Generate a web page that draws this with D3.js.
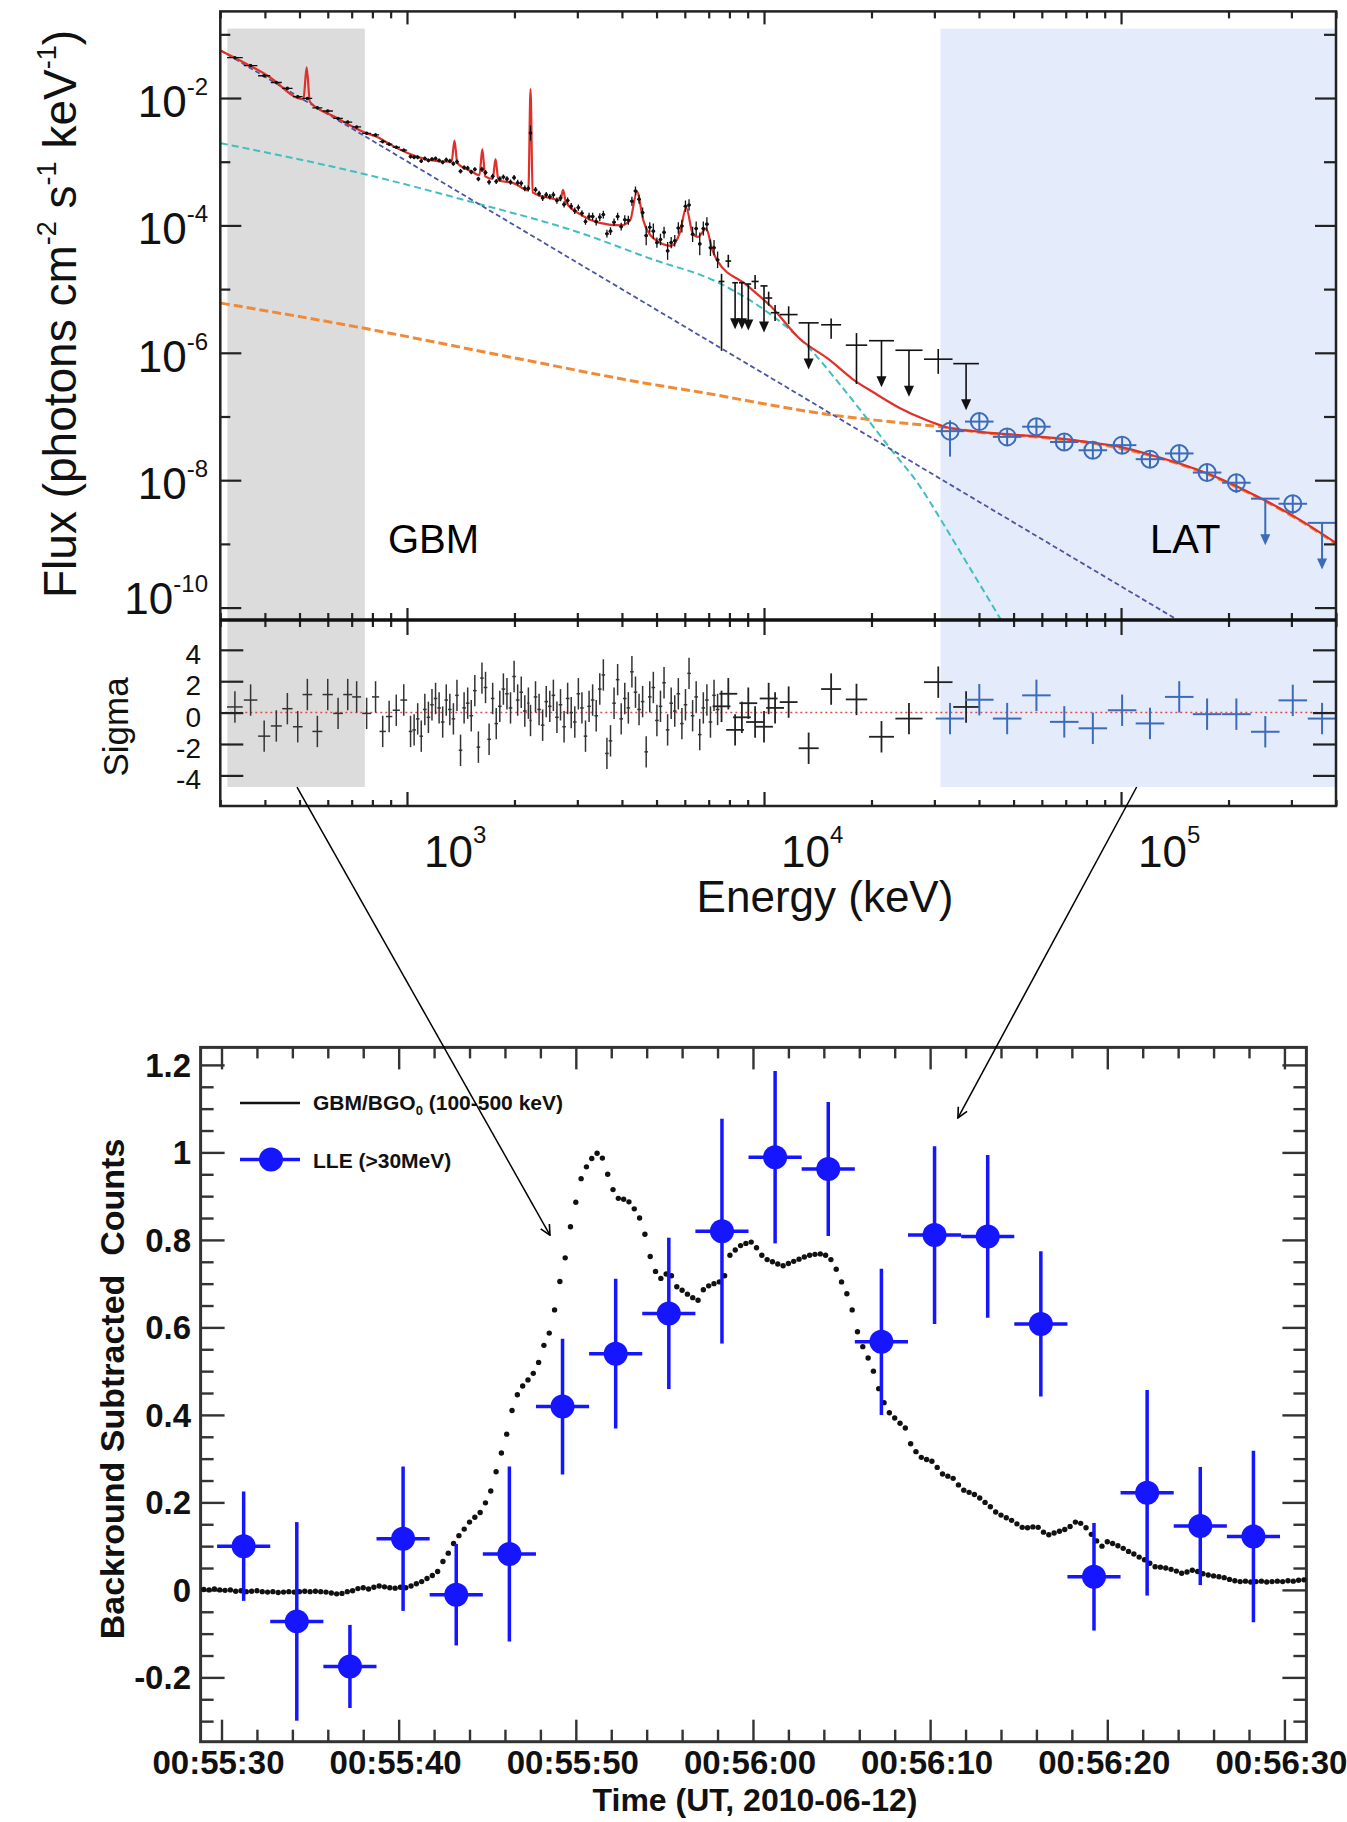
<!DOCTYPE html>
<html>
<head>
<meta charset="utf-8">
<script src="https://cdn.jsdelivr.net/npm/d3@7"></script>
<style>
  body { margin: 0; background: #fff; }
  svg text { font-family: "Liberation Sans", Arial, Helvetica, sans-serif; }
</style>
</head>
<body>
<svg id="fig" width="1347" height="1822"></svg>
<script>
// ---------------- data: spectrum (log10 E in keV, log10 flux) ----------------
const gbmLogE = [2.518,2.562,2.600,2.634,2.665,2.694,2.721,2.749,2.778,2.807,2.834,2.859,2.887,2.912,2.932,2.950,2.970,2.991,
  3.01,3.02,3.03,3.04,3.05,3.06,3.07,3.08,3.09,3.10,
  3.11,3.12,3.13,3.14,3.15,3.16,3.17,3.18,3.19,3.20,
  3.21,3.22,3.23,3.24,3.25,3.26,3.27,3.28,3.29,3.30,
  3.31,3.32,3.33,3.34,3.346,3.36,3.37,3.38,3.39,3.40,
  3.41,3.42,3.43,3.44,3.45,3.46,3.47,3.48,3.49,3.50,
  3.51,3.52,3.53,3.54,3.55,3.56,3.57,3.58,3.59,3.60,
  3.61,3.62,3.63,3.64,3.65,3.66,3.67,3.68,3.69,3.70,
  3.71,3.72,3.73,3.74,3.75,3.76,3.77,3.78,3.79,3.80,
  3.81,3.82,3.83,3.84,3.85,3.86,3.87];
const gbmLogF = [-1.367,-1.490,-1.650,-1.756,-1.849,-1.979,-2.007,-2.154,-2.204,-2.321,-2.377,-2.454,-2.555,-2.580,-2.684,-2.725,-2.773,-2.819,
  -2.92,-2.93,-2.93,-2.99,-2.95,-2.98,-2.96,-2.95,-2.98,-3.01,
  -2.97,-2.99,-3.03,-3.00,-3.15,-3.09,-3.10,-3.16,-3.12,-3.27,
  -3.12,-3.17,-3.32,-3.23,-3.31,-3.27,-3.24,-3.27,-3.32,-3.25,
  -3.33,-3.34,-3.42,-3.42,-2.55,-3.44,-3.50,-3.57,-3.52,-3.55,
  -3.52,-3.61,-3.57,-3.67,-3.61,-3.70,-3.77,-3.72,-3.81,-3.94,
  -3.86,-3.86,-3.94,-3.87,-3.83,-4.13,-4.09,-3.95,-3.86,-4.02,
  -3.91,-3.92,-3.62,-3.46,-3.59,-3.80,-4.16,-4.03,-4.09,-4.27,
  -4.22,-4.11,-4.40,-4.27,-4.24,-4.04,-4.01,-3.70,-3.68,-4.14,
  -4.05,-4.29,-4.05,-3.98,-4.35,-4.35,-4.54];
const gbmErr = [0.02,0.02,0.02,0.02,0.02,0.02,0.02,0.02,0.02,0.02,0.02,0.02,0.025,0.025,0.025,0.025,0.025,0.025,
  0.03,0.03,0.03,0.03,0.03,0.03,0.03,0.03,0.03,0.03,
  0.035,0.035,0.035,0.035,0.035,0.035,0.035,0.035,0.035,0.035,
  0.04,0.04,0.04,0.04,0.04,0.04,0.04,0.04,0.04,0.04,
  0.045,0.045,0.045,0.045,0.12,0.045,0.045,0.045,0.045,0.045,
  0.05,0.05,0.05,0.05,0.05,0.05,0.05,0.05,0.05,0.05,
  0.06,0.06,0.06,0.06,0.06,0.06,0.06,0.06,0.06,0.06,
  0.07,0.07,0.07,0.07,0.07,0.08,0.15,0.08,0.12,0.08,
  0.09,0.09,0.14,0.09,0.09,0.09,0.10,0.09,0.09,0.12,
  0.11,0.18,0.11,0.11,0.13,0.12,0.13];
const gbmSigma = [0.36,0.8,-1.5,-0.85,0.25,-0.9,1.15,-1.2,1.15,-0.05,1.15,1.0,-0.05,1.0,-1.2,-0.25,0.15,0.8,
  -1.2,-1.1,-0.4,-1.5,0.2,-0.3,0.5,0.9,0.3,-0.6,
  0.8,0.2,-0.4,1.1,-2.4,0.3,0.6,-0.2,1.4,-2.2,
  2.2,1.6,-1.7,0.9,-0.7,0.4,1.5,1.2,0.3,2.3,
  0.8,1.3,0.1,0.6,-0.5,1.0,0.2,-0.8,0.7,0.4,
  1.1,-0.3,0.5,-0.9,0.9,0.0,-0.6,1.2,0.3,-1.5,
  0.4,0.8,-0.2,1.5,2.4,-2.6,-1.8,0.6,2.1,-0.4,
  0.9,0.3,2.6,1.3,0.2,0.7,-2.5,1.0,1.6,-0.5,
  0.4,1.9,-1.1,0.6,0.1,1.2,-0.7,0.5,2.5,-0.2,
  1.0,-1.4,0.3,0.8,-0.6,1.1,0.2];

// sparse high-energy GBM (BGO) points
const bgoLogE   = [3.881, 3.900, 3.975, 4.013, 4.031, 4.069, 4.188, 4.259, 4.488];
const bgoLogF   = [-4.88, -4.56, -4.88, -5.14, -5.37, -5.40, -5.56, -5.88, -6.10];
const bgoErrLo  = [1.09, 0.10, 0.12, 0.12, 0.13, 0.15, 0.22, 0.61, 0.23];
const bgoErrHi  = [0.12, 0.10, 0.10, 0.10, 0.12, 0.13, 0.10, 0.19, 0.16];
const bgoHalfW  = [0.008, 0.008, 0.010, 0.010, 0.012, 0.025, 0.028, 0.030, 0.040];
const bgoSigma  = [0.4, 1.2, -0.6, 0.9, 0.3, 0.67, 1.5, 0.84, 1.94];
const bgoUlLogE = [3.919, 3.938, 3.956, 4.000, 4.125, 4.329, 4.406, 4.566];
const bgoUlLogF = [-4.90, -4.90, -4.92, -4.95, -5.53, -5.81, -5.96, -6.17];
const bgoUlHalfW = [0.008, 0.008, 0.008, 0.010, 0.028, 0.035, 0.038, 0.036];
const bgoUlSigma = [-1.1, -0.3, 0.6, -0.9, -2.27, -1.54, -0.38, 0.36];

// LAT points
const latLogE  = [4.521, 4.603, 4.681, 4.763, 4.841, 4.921, 5.003, 5.081, 5.163, 5.241, 5.323, 5.481];
const latLogF  = [-7.23, -7.08, -7.32, -7.16, -7.40, -7.53, -7.45, -7.67, -7.58, -7.88, -8.04, -8.37];
const latErrLo = [0.40, 0.13, 0.14, 0.12, 0.13, 0.13, 0.13, 0.14, 0.13, 0.14, 0.16, 0.16];
const latErrHi = [0.17, 0.12, 0.12, 0.12, 0.12, 0.12, 0.12, 0.12, 0.12, 0.12, 0.14, 0.14];
const latSigma = [-0.38, 0.82, -0.38, 1.1, -0.59, -1.0, 0.15, -0.69, 1.0, -0.1, -0.1, 0.78];
const latUlLogE = [5.404, 5.563];
const latUlLogF = [-8.29, -8.67];
const latUlSigma = [-1.22, -0.38];
const latHalfW = 0.04;

// model curves, [log10 E, log10 flux]
const modelTotal = [[2.48,-1.26],[2.61,-1.65],[2.71,-2.02],[2.719,-1.52],[2.728,-2.06],[2.80,-2.30],[2.885,-2.55],[2.92,-2.62],
  [2.95,-2.72],[3.00,-2.86],[3.06,-2.97],[3.125,-3.0],[3.133,-2.67],[3.141,-3.02],[3.18,-3.15],[3.203,-3.21],[3.211,-2.80],
  [3.219,-3.23],[3.24,-3.27],[3.248,-2.96],[3.256,-3.29],[3.30,-3.34],[3.34,-3.45],[3.346,-1.86],[3.352,-3.48],[3.40,-3.57],
  [3.43,-3.60],[3.437,-3.44],[3.445,-3.63],[3.487,-3.83],[3.54,-3.96],[3.60,-4.00],[3.625,-3.92],[3.644,-3.47],[3.662,-3.92],
  [3.69,-4.20],[3.74,-4.32],[3.765,-4.10],[3.782,-3.72],[3.80,-4.12],[3.815,-4.18],[3.838,-4.05],[3.855,-4.38],[3.87,-4.56],
  [3.95,-4.93],[4.019,-5.27],[4.10,-5.78],[4.181,-6.10],[4.25,-6.42],[4.306,-6.62],[4.381,-6.87],[4.456,-7.06],[4.506,-7.16],
  [4.606,-7.24],[4.756,-7.31],[4.85,-7.36],[4.931,-7.42],[5.00,-7.48],[5.081,-7.60],[5.17,-7.75],[5.244,-7.90],[5.369,-8.22],
  [5.494,-8.60],[5.603,-8.99]];
const modelCutoff = [[2.479,-2.71],[2.885,-3.2],[3.173,-3.62],[3.487,-4.12],[3.681,-4.52],[3.869,-4.89],[4.019,-5.4],[4.119,-5.88],
  [4.206,-6.45],[4.281,-6.98],[4.356,-7.52],[4.431,-8.05],[4.506,-8.72],[4.581,-9.42],[4.656,-10.12],[4.68,-10.35]];
const modelPowerLaw = [[2.479,-1.255],[5.16,-10.20]];
const modelPion = [[2.479,-5.22],[2.885,-5.62],[3.3,-6.08],[3.681,-6.49],[3.823,-6.62],[4.0,-6.80],[4.181,-6.97],[4.35,-7.08],
  [4.506,-7.17],[4.606,-7.25],[4.756,-7.32],[4.931,-7.43],[5.081,-7.61],[5.244,-7.91],[5.369,-8.23],[5.494,-8.61],[5.603,-9.0]];

const bandGbm = [314, 762];      // keV
const bandLat = [31200, 4e5];    // keV
const bandTopFlux = 0.123;
const bandBottomSigma = -4.74;

const fluxTickExp = [-2, -4, -6, -8, -10];
const energyTickExp = [3, 4, 5];
const sigmaTicks = [-4, -2, 0, 2, 4];

// ---------------- data: light curve ----------------
const gbmStart = 29.0, gbmStep = 0.3;   // seconds after 00:55:00
const gbmCounts = [0.001,0.000,0.002,0.000,-0.001,0.000,-0.003,-0.002,-0.004,-0.003,
  -0.002,-0.004,-0.005,-0.004,-0.006,-0.005,-0.004,-0.005,-0.004,-0.003,
  -0.004,-0.003,-0.004,-0.005,-0.007,-0.009,-0.008,-0.004,-0.002,0.003,
  0.005,0.002,0.006,0.009,0.007,0.005,0.004,0.006,0.005,0.009,
  0.014,0.019,0.026,0.033,0.042,0.065,0.084,0.106,0.124,0.139,
  0.155,0.166,0.177,0.199,0.226,0.270,0.313,0.356,0.410,0.446,
  0.466,0.480,0.495,0.520,0.559,0.587,0.640,0.705,0.759,0.830,
  0.886,0.940,0.967,0.986,0.998,0.987,0.950,0.915,0.895,0.893,
  0.887,0.871,0.850,0.813,0.762,0.728,0.712,0.722,0.718,0.693,
  0.685,0.676,0.668,0.662,0.686,0.695,0.700,0.704,0.718,0.765,
  0.777,0.787,0.792,0.795,0.782,0.765,0.755,0.750,0.745,0.741,
  0.746,0.751,0.756,0.761,0.765,0.767,0.768,0.765,0.755,0.733,
  0.704,0.677,0.640,0.590,0.556,0.530,0.500,0.460,0.428,0.405,
  0.393,0.381,0.370,0.334,0.316,0.303,0.298,0.294,0.280,0.265,
  0.260,0.255,0.240,0.228,0.223,0.218,0.210,0.200,0.190,0.178,
  0.171,0.165,0.159,0.151,0.143,0.142,0.144,0.143,0.132,0.126,
  0.130,0.134,0.138,0.145,0.155,0.152,0.142,0.127,0.112,0.100,
  0.110,0.106,0.101,0.095,0.088,0.082,0.075,0.069,0.061,0.053,
  0.052,0.050,0.047,0.043,0.038,0.041,0.045,0.042,0.037,0.034,
  0.032,0.030,0.028,0.024,0.021,0.019,0.020,0.018,0.019,0.020,
  0.018,0.019,0.020,0.019,0.021,0.020,0.022,0.023];

const lleT   = [31.25,34.25,37.25,40.25,43.25,46.25,49.25,52.25,55.25,58.25,61.25,64.25,67.25,70.25,73.25,76.25,79.25,82.25,85.25,88.25];
const lleV   = [0.100,-0.072,-0.175,0.117,-0.011,0.082,0.419,0.540,0.632,0.820,0.989,0.962,0.567,0.811,0.808,0.608,0.030,0.222,0.146,0.122];
const lleErr = [0.125,0.227,0.095,0.165,0.116,0.200,0.155,0.171,0.173,0.257,0.197,0.153,0.167,0.203,0.186,0.166,0.123,0.235,0.135,0.196];
const lleHalfBin = 1.5;

const timeTicks = [30, 40, 50, 60, 70, 80, 90];
const timeTickLabels = ["00:55:30","00:55:40","00:55:50","00:56:00","00:56:10","00:56:20","00:56:30"];
const countTicks = [-0.2, 0, 0.2, 0.4, 0.6, 0.8, 1.0, 1.2];
const countTickLabels = ["-0.2","0","0.2","0.4","0.6","0.8","1","1.2"];

// arrows: from band bottom (energy keV) to light curve (t, counts)
const arrowFromE = [492, 110600];
const arrowTo = [[48.54, 0.811], [71.57, 1.079]];

// ---------------- drawing ----------------
const svg = d3.select("#fig");
const P = v => Math.pow(10, v);

const xE = d3.scaleLog().domain([300, 4e5]).range([220.3, 1336]);
const yF = d3.scaleLog().domain([P(-0.64), P(-10.195)]).range([11.4, 620]);
const yS = d3.scaleLinear().domain([5.9, -5.95]).range([620, 806]);

const spec = svg.append("g");

// shaded bands
[[bandGbm, "#dcdcdc"], [bandLat, "#e4ebfa"]].forEach(function (b) {
  spec.append("rect")
    .attr("x", xE(b[0][0])).attr("width", xE(b[0][1]) - xE(b[0][0]))
    .attr("y", yF(bandTopFlux)).attr("height", yS(bandBottomSigma) - yF(bandTopFlux))
    .attr("fill", b[1]);
});

spec.append("clipPath").attr("id", "specClip").append("rect")
  .attr("x", xE(300)).attr("y", yF(P(-0.64)))
  .attr("width", xE(4e5) - xE(300)).attr("height", yF(P(-10.195)) - yF(P(-0.64)));

const curve = d3.line()
  .x(d => xE(P(d[0]))).y(d => yF(P(d[1])))
  .curve(d3.curveMonotoneX);

const curves = spec.append("g").attr("clip-path", "url(#specClip)").attr("fill", "none");
curves.append("path").attr("d", curve(modelPion)).attr("stroke", "#f08a36").attr("stroke-width", 3).attr("stroke-dasharray", "9,4");
curves.append("path").attr("d", curve(modelCutoff)).attr("stroke", "#3fbfbf").attr("stroke-width", 2).attr("stroke-dasharray", "7,4");
curves.append("path").attr("d", curve(modelPowerLaw)).attr("stroke", "#4b56a3").attr("stroke-width", 1.8).attr("stroke-dasharray", "5,3");
curves.append("path").attr("d", curve(modelTotal)).attr("stroke", "#e0302a").attr("stroke-width", 2.2);

// half widths of GBM channels from neighbour spacing
const gbmHalfW = gbmLogE.map(function (e, i) {
  const a = i > 0 ? e - gbmLogE[i - 1] : gbmLogE[1] - gbmLogE[0];
  const b = i < gbmLogE.length - 1 ? gbmLogE[i + 1] - e : a;
  return Math.min(a, b) / 2;
});

const pts = spec.append("g").attr("clip-path", "url(#specClip)");

function errCross(g, le, lf, lo, hi, hw, color, w) {
  g.append("line").attr("x1", xE(P(le))).attr("x2", xE(P(le)))
    .attr("y1", yF(P(lf - lo))).attr("y2", yF(P(lf + hi)))
    .attr("stroke", color).attr("stroke-width", w);
  g.append("line").attr("x1", xE(P(le - hw))).attr("x2", xE(P(le + hw)))
    .attr("y1", yF(P(lf))).attr("y2", yF(P(lf)))
    .attr("stroke", color).attr("stroke-width", w);
}
function upperLimit(g, le, lf, hw, color, w) {
  const x = xE(P(le)), y0 = yF(P(lf)), y1 = yF(P(lf - 0.7));
  g.append("line").attr("x1", xE(P(le - hw))).attr("x2", xE(P(le + hw))).attr("y1", y0).attr("y2", y0)
    .attr("stroke", color).attr("stroke-width", w);
  g.append("line").attr("x1", x).attr("x2", x).attr("y1", y0).attr("y2", y1 - 6)
    .attr("stroke", color).attr("stroke-width", w);
  g.append("path").attr("d", `M${x - 5},${y1 - 9}L${x + 5},${y1 - 9}L${x},${y1 + 2}Z`).attr("fill", color);
}

gbmLogE.forEach(function (e, i) {
  errCross(pts, e, gbmLogF[i], gbmErr[i], gbmErr[i], gbmHalfW[i], "#111", 1.3);
  pts.append("circle").attr("cx", xE(P(e))).attr("cy", yF(P(gbmLogF[i]))).attr("r", 1.8).attr("fill", "#111");
});
bgoLogE.forEach(function (e, i) {
  errCross(pts, e, bgoLogF[i], bgoErrLo[i], bgoErrHi[i], bgoHalfW[i], "#111", 1.6);
});
bgoUlLogE.forEach(function (e, i) { upperLimit(pts, e, bgoUlLogF[i], bgoUlHalfW[i], "#111", 1.6); });

const latColor = "#3c6cb9";
latLogE.forEach(function (e, i) {
  errCross(pts, e, latLogF[i], latErrLo[i], latErrHi[i], latHalfW, latColor, 2);
  pts.append("circle").attr("cx", xE(P(e))).attr("cy", yF(P(latLogF[i]))).attr("r", 8.5)
    .attr("fill", "none").attr("stroke", latColor).attr("stroke-width", 2);
});
latUlLogE.forEach(function (e, i) { upperLimit(pts, e, latUlLogF[i], latHalfW, latColor, 2); });

// residual panel
spec.append("line").attr("x1", xE(300)).attr("x2", xE(4e5)).attr("y1", yS(0)).attr("y2", yS(0))
  .attr("stroke", "#e04a4a").attr("stroke-width", 1.5).attr("stroke-dasharray", "2,3");

function resid(le, s, hw, color, w) {
  spec.append("line").attr("x1", xE(P(le))).attr("x2", xE(P(le))).attr("y1", yS(s - 1)).attr("y2", yS(s + 1))
    .attr("stroke", color).attr("stroke-width", w);
  spec.append("line").attr("x1", xE(P(le - hw))).attr("x2", xE(P(le + hw))).attr("y1", yS(s)).attr("y2", yS(s))
    .attr("stroke", color).attr("stroke-width", w);
}
gbmLogE.forEach(function (e, i) { resid(e, gbmSigma[i], gbmHalfW[i], "#333", 1.5); });
bgoLogE.forEach(function (e, i) { resid(e, bgoSigma[i], Math.max(bgoHalfW[i], 0.025), "#222", 1.8); });
bgoUlLogE.forEach(function (e, i) { resid(e, bgoUlSigma[i], Math.max(bgoUlHalfW[i], 0.025), "#222", 1.8); });
latLogE.forEach(function (e, i) { resid(e, latSigma[i], latHalfW, latColor, 2); });
latUlLogE.forEach(function (e, i) { resid(e, latUlSigma[i], latHalfW, latColor, 2); });

// frame + ticks
function ticks(g, axisFn, scale, values, len, tr, color, w) {
  const a = g.append("g").attr("transform", tr)
    .call(axisFn(scale).tickValues(values).tickSize(-len).tickFormat(""));
  a.select(".domain").remove();
  a.selectAll(".tick line").attr("stroke", color).attr("stroke-width", w);
}
const eMajor = [1e3, 1e4, 1e5];
const eMinor = [];
[100, 1000, 10000, 100000].forEach(function (d) {
  for (let k = 2; k <= 9; k++) { const v = d * k; if (v >= 300 && v <= 4e5) eMinor.push(v); }
});
const fMajor = fluxTickExp.map(P);
const fMinor = [-1, -3, -5, -7, -9].map(P);

ticks(spec, d3.axisTop, xE, eMajor, 13, "translate(0,11.4)", "#222", 2.2);
ticks(spec, d3.axisTop, xE, eMinor, 7, "translate(0,11.4)", "#222", 2.2);
ticks(spec, d3.axisBottom, xE, eMajor, 12, "translate(0,620)", "#222", 2.2);
ticks(spec, d3.axisBottom, xE, eMinor, 7, "translate(0,620)", "#222", 2.2);
ticks(spec, d3.axisTop, xE, eMajor, 15, "translate(0,620)", "#222", 2.2);
ticks(spec, d3.axisTop, xE, eMinor, 7, "translate(0,620)", "#222", 2.2);
ticks(spec, d3.axisBottom, xE, eMajor, 14, "translate(0,806)", "#222", 2.2);
ticks(spec, d3.axisBottom, xE, eMinor, 6, "translate(0,806)", "#222", 2.2);
ticks(spec, d3.axisLeft, yF, fMajor, 21, "translate(220.3,0)", "#222", 2.2);
ticks(spec, d3.axisLeft, yF, fMinor, 10, "translate(220.3,0)", "#222", 2.2);
ticks(spec, d3.axisRight, yF, fMajor, 21, "translate(1336,0)", "#222", 2.2);
ticks(spec, d3.axisRight, yF, fMinor, 12, "translate(1336,0)", "#222", 2.2);
ticks(spec, d3.axisLeft, yS, sigmaTicks, 23, "translate(220.3,0)", "#222", 2.2);
ticks(spec, d3.axisRight, yS, sigmaTicks, 23, "translate(1336,0)", "#222", 2.2);

spec.append("rect").attr("x", 220.3).attr("y", 11.4).attr("width", 1336 - 220.3).attr("height", 806 - 11.4)
  .attr("fill", "none").attr("stroke", "#222").attr("stroke-width", 2.5);
spec.append("line").attr("x1", 220.3).attr("x2", 1336).attr("y1", 620).attr("y2", 620)
  .attr("stroke", "#111").attr("stroke-width", 3.5);

// tick labels
fluxTickExp.forEach(function (d) {
  const t = spec.append("text").attr("x", 208).attr("y", Math.min(yF(P(d)) + 19, 614))
    .attr("text-anchor", "end").attr("font-size", 44).attr("fill", "#111");
  t.append("tspan").text("10");
  t.append("tspan").attr("font-size", 24).attr("dy", -22).text(String(d));
});
sigmaTicks.forEach(function (d) {
  spec.append("text").attr("x", 201).attr("y", yS(d) + 14).attr("text-anchor", "end")
    .attr("font-size", 28).attr("fill", "#111").text(String(d));
});
energyTickExp.forEach(function (d) {
  const t = spec.append("text").attr("x", xE(P(d)) + 17).attr("y", 867)
    .attr("font-size", 44).attr("fill", "#111");
  t.append("tspan").text("10");
  t.append("tspan").attr("font-size", 24).attr("dy", -24).text(String(d));
});
spec.append("text").attr("x", 825).attr("y", 912).attr("text-anchor", "middle")
  .attr("font-size", 44).attr("fill", "#111").text("Energy (keV)");

const fl = spec.append("text").attr("transform", "translate(76,314) rotate(-90)")
  .attr("text-anchor", "middle").attr("font-size", 46).attr("fill", "#111");
fl.append("tspan").text("Flux (photons cm");
fl.append("tspan").attr("font-size", 27).attr("dy", -20).text("-2");
fl.append("tspan").attr("dy", 20).text(" s");
fl.append("tspan").attr("font-size", 27).attr("dy", -20).text("-1");
fl.append("tspan").attr("dy", 20).text(" keV");
fl.append("tspan").attr("font-size", 27).attr("dy", -20).text("-1");
fl.append("tspan").attr("dy", 20).text(")");

spec.append("text").attr("transform", "translate(128,727) rotate(-90)")
  .attr("text-anchor", "middle").attr("font-size", 35).attr("fill", "#111").text("Sigma");

spec.append("text").attr("x", 388).attr("y", 553).attr("font-size", 40).attr("fill", "#000").text("GBM");
spec.append("text").attr("x", 1150).attr("y", 553).attr("font-size", 40).attr("fill", "#000").text("LAT");

// ---------------- light curve ----------------
const xT = d3.scaleLinear().domain([28.82, 91.24]).range([200.6, 1306.4]);
const yC = d3.scaleLinear().domain([-0.347, 1.24]).range([1741.7, 1047.4]);
const bot = svg.append("g");

const tMinor = d3.range(32, 90, 2).filter(v => v % 10 !== 0);
const cMinor = d3.range(-0.30, 1.21, 0.05).map(v => +v.toFixed(2)).filter(v => Math.abs(Math.round(v * 5) - v * 5) > 1e-6);

ticks(bot, d3.axisBottom, xT, timeTicks, 22, "translate(0,1741.7)", "#333", 2.4);
ticks(bot, d3.axisBottom, xT, tMinor, 12, "translate(0,1741.7)", "#333", 2.4);
ticks(bot, d3.axisTop, xT, timeTicks, 22, "translate(0,1047.4)", "#333", 2.4);
ticks(bot, d3.axisTop, xT, tMinor, 11, "translate(0,1047.4)", "#333", 2.4);
ticks(bot, d3.axisLeft, yC, countTicks, 24, "translate(200.6,0)", "#333", 2.4);
ticks(bot, d3.axisLeft, yC, cMinor, 13, "translate(200.6,0)", "#333", 2.4);
ticks(bot, d3.axisRight, yC, countTicks, 24, "translate(1306.4,0)", "#333", 2.4);
ticks(bot, d3.axisRight, yC, cMinor, 13, "translate(1306.4,0)", "#333", 2.4);
bot.append("rect").attr("x", 200.6).attr("y", 1047.4).attr("width", 1306.4 - 200.6).attr("height", 1741.7 - 1047.4)
  .attr("fill", "none").attr("stroke", "#333").attr("stroke-width", 3);

// GBM dots
bot.append("g").selectAll("circle").data(gbmCounts).join("circle")
  .attr("cx", (d, i) => xT(gbmStart + i * gbmStep)).attr("cy", d => yC(d))
  .attr("r", 2.7).attr("fill", "#111");

// LLE points
const lleColor = "#1515ff";
const lle = bot.append("g");
lleT.forEach(function (t, i) {
  lle.append("line").attr("x1", xT(t)).attr("x2", xT(t)).attr("y1", yC(lleV[i] - lleErr[i])).attr("y2", yC(lleV[i] + lleErr[i]))
    .attr("stroke", lleColor).attr("stroke-width", 3.5);
  lle.append("line").attr("x1", xT(t - lleHalfBin)).attr("x2", xT(t + lleHalfBin)).attr("y1", yC(lleV[i])).attr("y2", yC(lleV[i]))
    .attr("stroke", lleColor).attr("stroke-width", 3.5);
  lle.append("circle").attr("cx", xT(t)).attr("cy", yC(lleV[i])).attr("r", 12).attr("fill", lleColor);
});

// legend
bot.append("line").attr("x1", 240).attr("x2", 300).attr("y1", 1103).attr("y2", 1103).attr("stroke", "#111").attr("stroke-width", 2.5);
const lg1 = bot.append("text").attr("x", 313).attr("y", 1110).attr("font-size", 21).attr("font-weight", "bold").attr("fill", "#111");
lg1.append("tspan").text("GBM/BGO");
lg1.append("tspan").attr("font-size", 13).attr("dy", 5).text("0");
lg1.append("tspan").attr("dy", -5).text(" (100-500 keV)");
bot.append("line").attr("x1", 240).attr("x2", 300).attr("y1", 1159.5).attr("y2", 1159.5).attr("stroke", lleColor).attr("stroke-width", 3.5);
bot.append("circle").attr("cx", 271).attr("cy", 1159.5).attr("r", 12).attr("fill", lleColor);
bot.append("text").attr("x", 313).attr("y", 1168).attr("font-size", 21).attr("font-weight", "bold").attr("fill", "#111").text("LLE (>30MeV)");

// tick labels
timeTicks.forEach(function (t, i) {
  bot.append("text").attr("x", xT(t) - 3).attr("y", 1774).attr("text-anchor", "middle")
    .attr("font-size", 33).attr("font-weight", "bold").attr("fill", "#111").text(timeTickLabels[i]);
});
countTicks.forEach(function (v, i) {
  bot.append("text").attr("x", 191).attr("y", yC(v) + 12).attr("text-anchor", "end")
    .attr("font-size", 33).attr("font-weight", "bold").attr("fill", "#111").text(countTickLabels[i]);
});
bot.append("text").attr("x", 755).attr("y", 1811).attr("text-anchor", "middle")
  .attr("font-size", 32).attr("font-weight", "bold").attr("fill", "#111").text("Time (UT, 2010-06-12)");
bot.append("text").attr("transform", "translate(124,1389) rotate(-90)").attr("text-anchor", "middle")
  .attr("font-size", 34).attr("font-weight", "bold").attr("fill", "#111").style("white-space", "pre")
  .text("Backround Subtracted  Counts");

// ---------------- arrows between panels ----------------
const defs = svg.append("defs");
defs.append("marker").attr("id", "head").attr("viewBox", "0 0 12 12").attr("refX", 11).attr("refY", 6)
  .attr("markerWidth", 12).attr("markerHeight", 12).attr("markerUnits", "userSpaceOnUse").attr("orient", "auto")
  .append("path").attr("d", "M1,1L11,6L1,11").attr("fill", "none").attr("stroke", "#000").attr("stroke-width", 1.6);
arrowFromE.forEach(function (e, i) {
  svg.append("line").attr("x1", xE(e)).attr("y1", yS(bandBottomSigma))
    .attr("x2", xT(arrowTo[i][0])).attr("y2", yC(arrowTo[i][1]))
    .attr("stroke", "#000").attr("stroke-width", 1.5).attr("marker-end", "url(#head)");
});
</script>
</body>
</html>
